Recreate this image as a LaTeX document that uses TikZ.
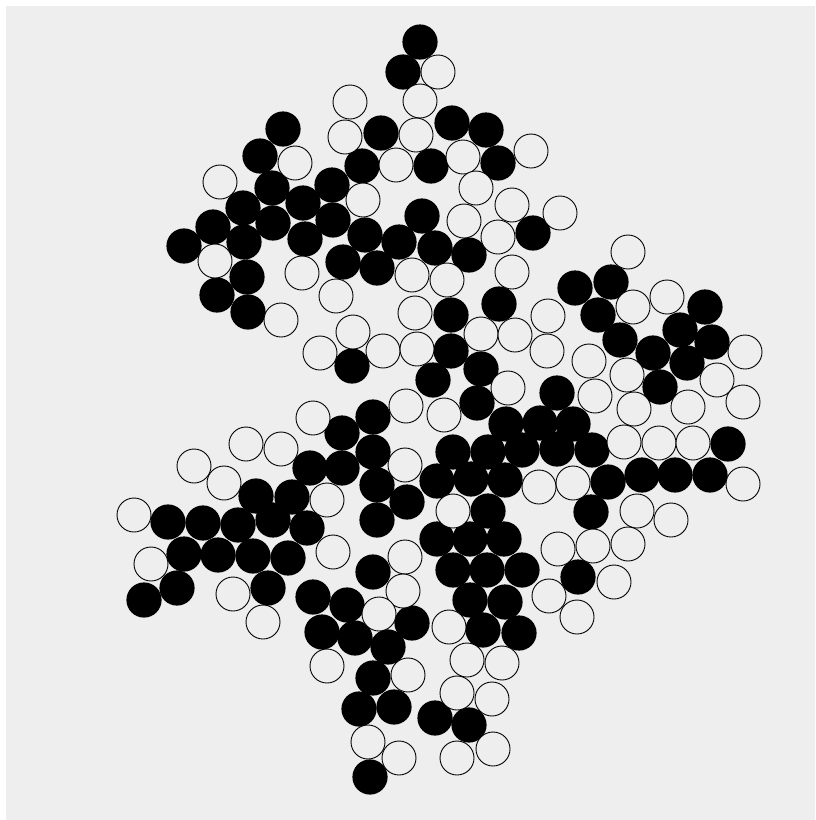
\documentclass[tikz,border=0pt]{standalone}
\definecolor{bggray}{HTML}{EEEEEE}
\tikzset{
  blackdisc/.style={fill=black},
  whitedisc/.style={draw=black, line width=0.9pt, fill=bggray}
}
\begin{document}
\begin{tikzpicture}[x=1pt,y=-1pt]
\useasboundingbox (0,0) rectangle (815,820);
\fill[white] (0,0) rectangle (815,820);
\fill[bggray] (6,6) rectangle (815,820);
% black discs
\foreach \px/\py in {
420/42, 403/72, 283/129, 381/133, 452/123, 486/130, 260/156, 362/166, 431/166, 498/163,
272/188, 332/185, 243/208, 303/203, 422/216, 213/227, 273/223, 333/220, 184/246, 244/242,
305/239, 365/235, 399/242, 435/248, 469/255, 533/233, 343/262, 377/268, 247/277, 217/295,
248/312, 575/288, 611/282, 598/315, 705/307, 680/330, 712/342, 620/340, 653/353, 687/363,
660/387, 451/315, 499/304, 451/351, 352/366, 433/380, 481/369, 557/393, 477/403, 373/417,
506/424, 540/423, 573/424, 342/433, 373/452, 453/452, 488/452, 522/450, 557/449, 592/450,
728/444, 310/468, 342/468, 377/485, 437/481, 471/479, 505/480, 608/482, 642/475, 675/475,
710/475, 407/502, 488/511, 591/512, 256/496, 292/497, 377/520, 168/522, 203/523, 238/525,
273/520, 307/528, 437/539, 470/539, 504/539, 184/554, 218/555, 253/556, 288/558, 453/570,
487/570, 522/570, 373/572, 578/577, 177/588, 144/600, 268/588, 313/597, 347/605, 470/600,
505/602, 412/623, 322/632, 355/638, 388/647, 483/630, 519/633, 373/678, 359/709, 394/707,
435/718, 469/725, 370/777}
  \fill[blackdisc] (\px,\py) circle (17.6);
% white discs
\foreach \px/\py in {
438/72, 350/102, 420/101, 345/137, 416/135, 295/163, 396/165, 463/157, 531/151, 220/182,
476/188, 363/200, 512/205, 560/213, 464/221, 498/237, 215/261, 302/273, 412/275, 447/280,
512/272, 628/252, 336/296, 281/320, 415/313, 548/316, 633/307, 667/297, 353/332, 320/353,
383/351, 417/349, 481/334, 515/335, 547/351, 745/352, 589/361, 627/375, 717/380, 508/388,
743/402, 595/396, 634/409, 688/407, 406/406, 444/415, 313/418, 246/444, 281/449, 624/442,
659/443, 693/443, 194/466, 224/483, 405/465, 327/500, 539/487, 573/483, 743/484, 453/511,
637/511, 671/520, 134/515, 151/564, 333/552, 405/557, 558/549, 593/546, 628/544, 233/594,
263/622, 403/591, 379/614, 549/596, 614/582, 577/617, 449/627, 327/666, 408/675, 467/660,
502/663, 457/693, 492/699, 368/742, 399/758, 457/758, 493/749}
  \draw[whitedisc] (\px,\py) circle (17);
\end{tikzpicture}
\end{document}
